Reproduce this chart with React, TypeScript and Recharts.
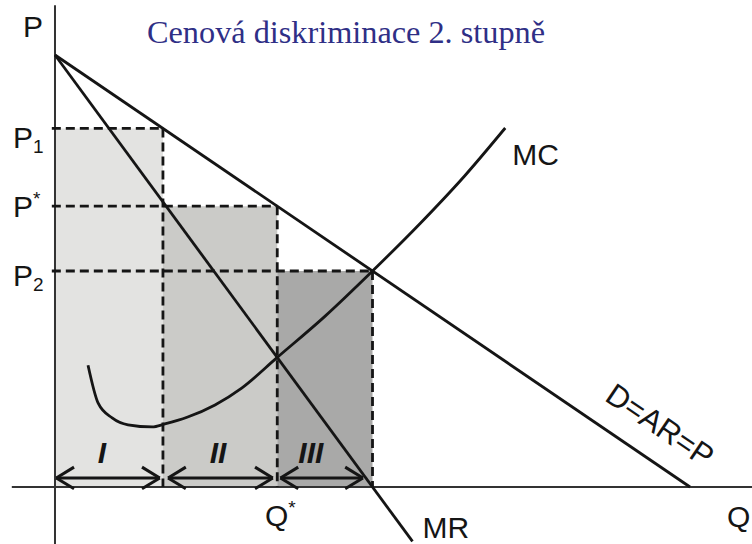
import React from 'react'
import { ComposedChart, Line, XAxis, YAxis, ReferenceLine, ReferenceArea, ReferenceDot } from 'recharts'

// quantity breaks of the three blocks and the prices charged in them
const qBreaks = [0, 1.7, 3.5, 5]
const pLevels = [8.3, 6.5, 5]
const blockNames = ['I', 'II', 'III']
const blockFills = ['#e3e3e1', '#cbcbc8', '#a9a9a8']
const blockLabelDx = [-7, -2, -14]
const priceSubs = ['1', '*', '2']
const priceSubSuper = [false, true, false]

// demand D=AR=P
const demandQ = [0, 10]
const demandP = [10, 0]

// marginal revenue
const mrQ = [0, 5.63]
const mrP = [10, -1.26]

// marginal cost
const mcQ = [0.52, 0.68, 0.9, 1.15, 1.53, 1.73, 2.09, 2.52, 2.94, 3.5, 4.25, 5, 5.75, 6.45, 7.09]
const mcP = [2.82, 1.94, 1.6, 1.44, 1.39, 1.46, 1.62, 1.9, 2.29, 3.0, 3.95, 5, 6.1, 7.2, 8.31]

// double arrows under each block
const arrowLeft = [0.02, 1.78, 3.55]
const arrowRight = [1.65, 3.43, 4.85]
const arrowLevel = 0.21

const Q_DOMAIN: [number, number] = [-0.866, 10.976]
const P_DOMAIN: [number, number] = [-1.319, 11.273]

const INK = '#151515'
const SANS = "'Liberation Sans', Arial, Helvetica, sans-serif"

const toRows = (qs: number[], ps: number[]) => qs.map((q, i) => ({ q, p: ps[i] }))

function tag(key: string, q: number, p: number, dx: number, dy: number, content: React.ReactNode, opts: { anchor?: string; rotate?: number; size?: number; italic?: boolean; bold?: boolean } = {}) {
  return (
    <ReferenceDot
      key={key}
      x={q}
      y={p}
      r={0}
      shape={(props: any) => {
        const x = props.cx + dx
        const y = props.cy + dy
        return (
          <text
            x={x}
            y={y}
            textAnchor={(opts.anchor as any) || 'start'}
            fontFamily={SANS}
            fontSize={opts.size || 30}
            fontStyle={opts.italic ? 'italic' : 'normal'}
            fontWeight={opts.bold ? 'bold' : 'normal'}
            fill={INK}
            transform={opts.rotate ? `rotate(${opts.rotate} ${x} ${y})` : undefined}
          >
            {content}
          </text>
        )
      }}
    />
  )
}

export default function App() {
  const line = { stroke: INK, strokeWidth: 2.8, dot: false, isAnimationActive: false, activeDot: false } as const
  const dash = { stroke: INK, strokeWidth: 2.8, strokeDasharray: '9 5' }
  const arrowStroke = { stroke: INK, strokeWidth: 3 }
  const headDq = 0.28
  const headDp = 0.25

  return (
    <div style={{ position: 'absolute', left: 0, top: 0, width: 752, height: 544, background: '#ffffff' }}>
      <ComposedChart width={752} height={544} margin={{ top: 0, right: 0, bottom: 0, left: 0 }}>
        <XAxis type="number" dataKey="q" domain={Q_DOMAIN} allowDataOverflow hide />
        <YAxis type="number" dataKey="p" domain={P_DOMAIN} allowDataOverflow hide />

        {blockNames.map((_, i) => (
          <ReferenceArea key={'area' + i} x1={qBreaks[i]} x2={qBreaks[i + 1]} y1={0} y2={pLevels[i]} fill={blockFills[i]} fillOpacity={1} stroke="none" />
        ))}

        {/* axes through the origin */}
        <ReferenceLine segment={[{ x: 0, y: P_DOMAIN[0] }, { x: 0, y: 11.15 }]} stroke="#333" strokeWidth={2} />
        <ReferenceLine segment={[{ x: -0.68, y: 0 }, { x: Q_DOMAIN[1], y: 0 }]} stroke="#333" strokeWidth={2} />

        {pLevels.map((p, i) => (
          <ReferenceLine key={'h' + i} segment={[{ x: -0.05, y: p }, { x: qBreaks[i + 1], y: p }]} {...dash} />
        ))}
        {pLevels.map((p, i) => (
          <ReferenceLine key={'v' + i} segment={[{ x: qBreaks[i + 1], y: p }, { x: qBreaks[i + 1], y: 0 }]} {...dash} />
        ))}

        {arrowLeft.map((a, i) => [
          <ReferenceLine key={'ar' + i} segment={[{ x: a, y: arrowLevel }, { x: arrowRight[i], y: arrowLevel }]} {...arrowStroke} />,
          <ReferenceLine key={'al1' + i} segment={[{ x: a, y: arrowLevel }, { x: a + headDq, y: arrowLevel + headDp }]} {...arrowStroke} />,
          <ReferenceLine key={'al2' + i} segment={[{ x: a, y: arrowLevel }, { x: a + headDq, y: arrowLevel - headDp }]} {...arrowStroke} />,
          <ReferenceLine key={'ar1' + i} segment={[{ x: arrowRight[i], y: arrowLevel }, { x: arrowRight[i] - headDq, y: arrowLevel + headDp }]} {...arrowStroke} />,
          <ReferenceLine key={'ar2' + i} segment={[{ x: arrowRight[i], y: arrowLevel }, { x: arrowRight[i] - headDq, y: arrowLevel - headDp }]} {...arrowStroke} />,
        ])}

        <Line data={toRows(demandQ, demandP)} dataKey="p" type="linear" {...line} />
        <Line data={toRows(mrQ, mrP)} dataKey="p" type="linear" {...line} />
        <Line data={toRows(mcQ, mcP)} dataKey="p" type="monotone" {...line} />

        {tag('P', 0, 10, -12, -18, 'P', { anchor: 'end' })}
        {pLevels.map((p, i) =>
          tag('pl' + i, 0, p, -42, i === 0 ? 20 : i === 1 ? 11 : 15, (
            <>
              P
              <tspan fontSize={19} dy={priceSubSuper[i] ? -12 : 5}>{priceSubs[i]}</tspan>
            </>
          ))
        )}
        {blockNames.map((n, i) => tag('bn' + i, (qBreaks[i] + qBreaks[i + 1]) / 2, 0, blockLabelDx[i], -24, n, { anchor: 'middle', italic: true, bold: true, size: 30 }))}
        {tag('MC', mcQ[mcQ.length - 1], mcP[mcP.length - 1], 7, 37, 'MC')}
        {tag('MR', mrQ[1], mrP[1], 10, -3, 'MR')}
        {tag('Qs', qBreaks[2], 0, 3, 39, (
          <>
            Q<tspan fontSize={19} dy={-12}>*</tspan>
          </>
        ), { anchor: 'middle' })}
        {tag('Q', demandQ[1], 0, 37, 40, 'Q')}
        {tag('D', demandQ[1], 0, -36, -53, 'D=AR=P', { anchor: 'middle', rotate: 34.2, size: 31 })}
      </ComposedChart>
      <svg width={752} height={60} style={{ position: 'absolute', left: 0, top: 0, pointerEvents: 'none' }}>
        <text x={147} y={43} fontFamily="'Liberation Serif', 'Times New Roman', serif" fontSize={32} textLength={398} lengthAdjust="spacingAndGlyphs" fill="#2f2f86">
          Cenová diskriminace 2. stupně
        </text>
      </svg>
    </div>
  )
}
